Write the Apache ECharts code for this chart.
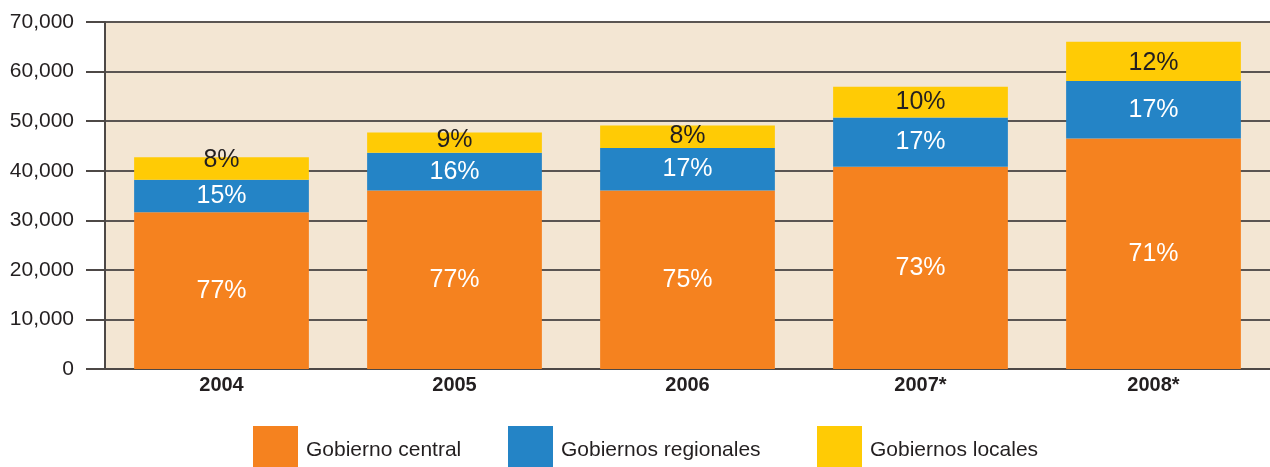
<!DOCTYPE html>
<html>
<head>
<meta charset="utf-8">
<script src="https://cdn.jsdelivr.net/npm/echarts@6/dist/echarts.min.js"></script>
<style>html,body{margin:0;padding:0;background:#fff}#c{width:1270px;height:467px}</style>
</head>
<body>
<div id="c"></div>
<script>
const categories = ['2004', '2005', '2006', '2007*', '2008*'];
const seriesNames = ['Gobierno central', 'Gobiernos regionales', 'Gobiernos locales'];
const central = [31600, 36000, 36000, 40800, 46500];
const regional = [6600, 7600, 8600, 9950, 11600];
const local = [4500, 4100, 4500, 6200, 7900];
const centralPct = ['77%', '77%', '75%', '73%', '71%'];
const regionalPct = ['15%', '16%', '17%', '17%', '17%'];
const localPct = ['8%', '9%', '8%', '10%', '12%'];
const yTicks = [0, 10000, 20000, 30000, 40000, 50000, 60000, 70000];

const colors = ['#F5821F', '#2484C6', '#FFCB05'];
const font = 'Liberation Sans, Arial, sans-serif';
// vertical label nudges (layout only) for the thin top segments
const localLabelNudge = [-8, -3, -1, 0, 2];

function mk(name, vals, pcts, color, labelColor, nudge) {
  return {
    name: name,
    type: 'bar',
    stack: 'total',
    barCategoryGap: '25%',
    itemStyle: { color: color },
    label: {
      show: true,
      position: 'inside',
      color: labelColor,
      fontFamily: font,
      fontSize: 25,
      formatter: p => pcts[p.dataIndex]
    },
    data: vals.map((v, i) => nudge ? { value: v, label: { offset: [0, nudge[i]] } } : v)
  };
}

function legendAt(left, name) {
  return {
    left: left, top: 426, padding: 0,
    itemWidth: 45, itemHeight: 41,
    icon: 'rect',
    formatter: n => '{t|' + n + '}',
    textStyle: {
      fontFamily: font, fontSize: 21, color: '#231F20',
      rich: { t: { fontFamily: font, fontSize: 21, color: '#231F20', padding: [7, 0, 0, 3] } }
    },
    data: [name]
  };
}

const chart = echarts.init(document.getElementById('c'), null, { renderer: 'canvas' });
chart.setOption({
  animation: false,
  backgroundColor: '#ffffff',
  grid: {
    left: 105, right: 0, top: 22, bottom: 98,
    show: true, backgroundColor: '#F3E6D3', borderWidth: 0
  },
  legend: [
    legendAt(253, seriesNames[0]),
    legendAt(508, seriesNames[1]),
    legendAt(817, seriesNames[2])
  ],
  xAxis: {
    type: 'category',
    data: categories,
    axisLine: { show: true, lineStyle: { color: '#4D4846', width: 2 } },
    axisTick: { show: false },
    axisLabel: { fontFamily: font, fontSize: 20, fontWeight: 'bold', color: '#231F20', margin: 6 }
  },
  yAxis: {
    type: 'value',
    min: yTicks[0], max: yTicks[yTicks.length - 1], interval: 10000,
    axisLine: { show: true, lineStyle: { color: '#4D4846', width: 2 } },
    axisTick: { show: true, length: 19, lineStyle: { color: '#4D4846', width: 2 } },
    splitLine: { show: true, lineStyle: { color: '#5A5552', width: 2 } },
    axisLabel: {
      fontFamily: font, fontSize: 21, color: '#231F20', margin: 31,
      formatter: v => v.toLocaleString('en-US')
    }
  },
  series: [
    mk(seriesNames[0], central, centralPct, colors[0], '#FFFFFF'),
    mk(seriesNames[1], regional, regionalPct, colors[1], '#FFFFFF'),
    mk(seriesNames[2], local, localPct, colors[2], '#231F20', localLabelNudge)
  ]
});
</script>
</body>
</html>
